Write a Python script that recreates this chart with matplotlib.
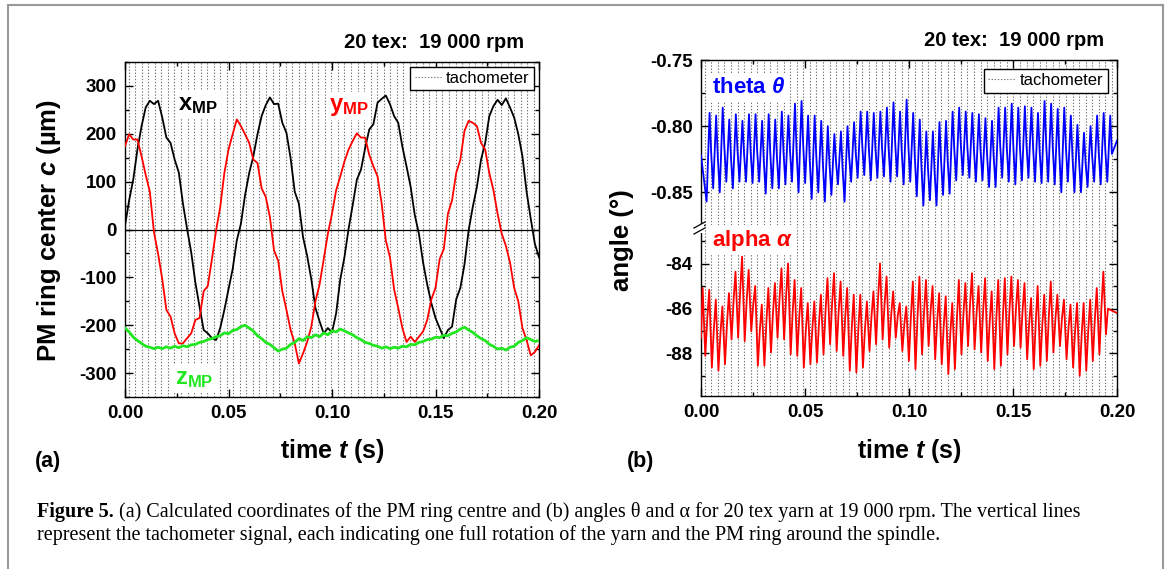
import numpy as np
import matplotlib
matplotlib.use("Agg")
import matplotlib.pyplot as plt
from matplotlib.lines import Line2D
from matplotlib.patches import Rectangle
from matplotlib.ticker import MultipleLocator, FormatStrFormatter

plt.rcParams["font.family"] = ["Liberation Sans", "DejaVu Sans"]
plt.rcParams["font.weight"] = "bold"
plt.rcParams["axes.unicode_minus"] = False
plt.rcParams["mathtext.fontset"] = "custom"
plt.rcParams["mathtext.rm"] = "Liberation Sans:bold"
plt.rcParams["mathtext.bf"] = "Liberation Sans:bold"
plt.rcParams["mathtext.it"] = "Liberation Sans:italic:bold"

# ---- data --------------------------------------------------------------------
RPM = 19000
REV = 60.0 / RPM            # one spindle revolution (s)
TACH_FIRST = 0.0018         # first tachometer pulse (s)

# (a) PM ring centre, sampled every 2 ms from 0 to 0.2 s (um)
t_a = np.linspace(0.0, 0.2, 101)
x_mp = [8, 61, 105, 167, 216, 255, 269, 262, 269, 234, 192, 181, 146, 119, 54, 1,
        -48, -111, -161, -210, -217, -227, -231, -206, -168, -125,
        -83, -23, 12, 72, 118, 153, 199, 237, 260, 276, 262, 263, 223, 202, 149, 79,
        54, -16, -55, -104, -164, -192, -217, -206, -215,
        -175, -104, -58, 1, 51, 104, 125, 170, 209, 220, 265, 273, 280, 262, 237, 223,
        173, 132, 89, 30, -9, -69, -115, -154, -185,
        -206, -227, -210, -203, -146, -122, -73, -2, 47, 89, 146, 181, 237, 258, 271,
        260, 274, 255, 234, 199, 153, 79, 23, -30, -58]
y_mp = [174, 199, 188, 188, 153, 114, 79, -6, -51, -104, -168, -182, -217, -238, -238,
        -227, -217, -189, -185, -129, -118, -62, -2, 47, 118, 167,
        199, 230, 216, 199, 181, 146, 139, 86, 68, 26, -44, -65, -129, -168, -210, -238,
        -280, -259, -235, -203, -150, -115, -62, -9, 33,
        82, 111, 142, 167, 185, 201, 192, 192, 156, 132, 111, 54, -23, -58, -125, -164,
        -206, -235, -224, -235, -224, -213, -189, -146, -122,
        -62, -41, 33, 61, 118, 146, 206, 227, 223, 216, 181, 167, 118, 82, 33, -9, -34,
        -69, -122, -150, -206, -231, -263, -256, -242]
z_mp = [-206, -214, -225, -232, -238, -244, -246, -249, -246, -249,
        -245, -248, -244, -247, -243, -245, -241, -240, -236, -234,
        -230, -228, -224, -222, -216, -218, -211, -209, -203, -200,
        -206, -212, -222, -228, -236, -240, -247, -254, -250, -248,
        -240, -236, -228, -232, -224, -226, -220, -224, -216, -220,
        -212, -214, -208, -212, -216, -220, -226, -230, -236, -238,
        -242, -244, -248, -245, -249, -246, -248, -244, -245, -240,
        -241, -236, -234, -230, -229, -225, -226, -221, -222, -217,
        -214, -208, -204, -210, -215, -222, -228, -232, -240, -244,
        -250, -248, -252, -246, -244, -236, -232, -226, -230, -234, -232]

# (b) angles, one trough / peak / shoulder per revolution (deg)
THETA_T0 = 0.0027           # first theta trough (s)
theta_start, theta_end = -0.822, -0.811
theta_trough = [-0.857, -0.847, -0.850, -0.842, -0.847, -0.842, -0.842, -0.843, -0.842, -0.851,
                -0.847, -0.847, -0.844, -0.842, -0.850, -0.843, -0.855, -0.850, -0.857, -0.852,
                -0.844, -0.857, -0.842, -0.839, -0.837, -0.841, -0.839, -0.838, -0.842, -0.838,
                -0.844, -0.842, -0.853, -0.860, -0.856, -0.860, -0.852, -0.851, -0.841, -0.837,
                -0.839, -0.842, -0.841, -0.846, -0.846, -0.839, -0.842, -0.844, -0.841, -0.839,
                -0.842, -0.843, -0.842, -0.844, -0.850, -0.842, -0.850, -0.850, -0.846, -0.842,
                -0.844, -0.842]
theta_peak = [-0.790, -0.792, -0.786, -0.795, -0.791, -0.796, -0.791, -0.791, -0.796, -0.791,
              -0.795, -0.789, -0.792, -0.783, -0.781, -0.792, -0.792, -0.796, -0.800, -0.806,
              -0.804, -0.800, -0.797, -0.789, -0.789, -0.790, -0.789, -0.786, -0.782, -0.789,
              -0.780, -0.790, -0.795, -0.804, -0.804, -0.797, -0.796, -0.789, -0.786, -0.789,
              -0.790, -0.791, -0.794, -0.796, -0.786, -0.786, -0.783, -0.786, -0.785, -0.786,
              -0.790, -0.781, -0.783, -0.787, -0.786, -0.792, -0.799, -0.805, -0.800, -0.792,
              -0.790, -0.792]
theta_mid = [-0.821, -0.823, -0.816, -0.823, -0.818, -0.821, -0.819, -0.819, -0.826, -0.821,
             -0.823, -0.819, -0.819, -0.819, -0.814, -0.826, -0.823, -0.828, -0.828, -0.827,
             -0.832, -0.823, -0.820, -0.815, -0.817, -0.817, -0.816, -0.816, -0.812, -0.819,
             -0.813, -0.824, -0.830, -0.832, -0.834, -0.827, -0.826, -0.817, -0.814, -0.816,
             -0.818, -0.818, -0.822, -0.823, -0.815, -0.816, -0.816, -0.816, -0.814, -0.816,
             -0.819, -0.814, -0.816, -0.821, -0.816, -0.823, -0.826, -0.828, -0.823, -0.820,
             -0.818, -0.821]

ALPHA_T0 = 0.0008           # first alpha peak (s)
alpha_start, alpha_end = -87.3, -86.2
alpha_peak = [-85.08, -85.16, -85.60, -85.90, -85.31, -84.35, -83.68, -84.27, -84.99, -85.82,
              -85.08, -84.86, -84.20, -83.98, -84.72, -85.08, -85.75, -85.68, -85.38, -84.64,
              -84.42, -84.79, -85.08, -85.38, -85.38, -85.68, -85.23, -83.98, -84.57, -85.23,
              -85.75, -85.90, -84.79, -84.57, -84.72, -84.99, -85.31, -85.45, -85.75, -84.72,
              -84.86, -84.42, -84.99, -84.64, -85.23, -84.72, -84.64, -84.57, -84.72, -84.86,
              -85.53, -84.99, -85.38, -84.79, -85.38, -85.60, -85.82, -85.75, -85.75, -85.60,
              -85.08, -84.35]
alpha_trough = [-88.11, -88.63, -88.77, -88.48, -87.37, -87.30, -87.45, -87.01, -88.55, -88.55,
                -87.96, -87.30, -87.37, -88.04, -88.11, -88.63, -88.48, -88.41, -88.04, -87.59,
                -87.89, -88.11, -88.77, -88.85, -88.63, -87.89, -87.59, -87.37, -87.74, -87.30,
                -87.89, -88.33, -88.70, -88.04, -87.67, -88.26, -88.48, -88.92, -88.70, -88.04,
                -87.67, -87.82, -87.96, -88.33, -88.70, -88.55, -88.04, -87.67, -87.74, -88.26,
                -88.70, -88.55, -88.33, -87.96, -87.67, -88.26, -88.63, -89.00, -88.77, -88.33,
                -88.04, -87.15]
alpha_mid = [-86.44, -86.92, -87.13, -86.70, -85.66, -85.29, -85.66, -85.80, -86.99, -86.62,
             -86.21, -85.55, -85.48, -86.18, -86.40, -86.99, -86.88, -86.70, -86.14, -85.81,
             -86.14, -86.40, -86.88, -86.92, -86.96, -86.36, -85.59, -85.77, -86.29, -86.33,
             -86.70, -86.36, -86.44, -86.18, -86.13, -86.59, -86.77, -87.14, -86.51, -86.25,
             -85.85, -86.21, -86.10, -86.58, -86.51, -86.40, -86.11, -86.00, -86.10, -86.70,
             -86.65, -86.77, -86.36, -86.47, -86.44, -86.84, -86.99, -87.18, -86.99, -86.51,
             -86.00, -86.00]

TITLE = "20 tex:  19 000 rpm"
CAPTION_1 = ("(a) Calculated coordinates of the PM ring centre and (b) angles \u03b8 and \u03b1 "
             "for 20 tex yarn at 19 000 rpm. The vertical lines")
CAPTION_2 = ("represent the tachometer signal, each indicating one full rotation of the yarn "
             "and the PM ring around the spindle.")


def cycles(t0, first, second, third, f2, f3):
    """Interleave per-revolution extremes into one time series."""
    t, v = [], []
    for k in range(len(first)):
        base = t0 + k * REV
        t += [base, base + f2 * REV, base + f3 * REV]
        v += [first[k], second[k], third[k]]
    return np.array(t), np.array(v)


t_th, v_th = cycles(THETA_T0, theta_trough, theta_peak, theta_mid, 0.45, 0.7)
t_th = np.r_[0.0, t_th, 0.2]
v_th = np.r_[theta_start, v_th, theta_end]
t_al, v_al = cycles(ALPHA_T0, alpha_peak, alpha_trough, alpha_mid, 0.4, 0.7)
t_al = np.r_[0.0, t_al, 0.2]
v_al = np.r_[alpha_start, v_al, alpha_end]
tach = np.arange(TACH_FIRST, 0.2, REV)

# ---- layout (pixel helpers) ---------------------------------------------------
W, H = 1171, 569
fig = plt.figure(figsize=(W / 100, H / 100), dpi=100)


def fx(px):
    return px / W


def fy(py):
    return 1 - py / H


ax1 = fig.add_axes([fx(125), fy(397), fx(539) - fx(125), fy(62) - fy(397)])
axt = fig.add_axes([fx(701), fy(228), fx(1117) - fx(701), fy(60) - fy(228)])
axb = fig.add_axes([fx(701), fy(396), fx(1117) - fx(701), fy(228) - fy(396)])

TACH_KW = dict(color="0.45", lw=0.8, ls=(0, (1.2, 1.6)), zorder=1)
for ax in (ax1, axt, axb):
    for tt in tach:
        ax.axvline(tt, **TACH_KW)
    ax.set_xlim(0, 0.2)
    ax.xaxis.set_major_locator(MultipleLocator(0.05))
    ax.xaxis.set_minor_locator(MultipleLocator(0.025))
    ax.xaxis.set_major_formatter(FormatStrFormatter("%.2f"))
    ax.tick_params(which="both", direction="in", top=True, right=True, width=1.0,
                   labelsize=13.5, pad=6)
    ax.tick_params(which="major", length=6)
    ax.tick_params(which="minor", length=3)
    for s in ax.spines.values():
        s.set_linewidth(1.0)

# (a)
ax1.axhline(0, color="black", lw=0.9, zorder=2)
ax1.plot(t_a, x_mp, color="black", lw=1.3, zorder=3)
ax1.plot(t_a, y_mp, color="#ff0000", lw=1.3, zorder=3)
ax1.plot(t_a, z_mp, color="#22e622", lw=2.0, zorder=4)
ax1.set_ylim(-350, 350)
ax1.yaxis.set_major_locator(MultipleLocator(100))
ax1.yaxis.set_minor_locator(MultipleLocator(50))

LBL_BOX = dict(facecolor="white", edgecolor="none", pad=2)
ax1.text(0.0258, 262, r"$\mathbf{x}_{\mathbf{MP}}$", fontsize=17, color="black",
         va="center", ha="left", bbox=LBL_BOX, zorder=5)
ax1.text(0.0985, 258, r"$\mathbf{y}_{\mathbf{MP}}$", fontsize=17, color="#ff0000",
         va="center", ha="left", bbox=LBL_BOX, zorder=5)
ax1.text(0.0240, -312, r"$\mathbf{z}_{\mathbf{MP}}$", fontsize=17, color="#22e622",
         va="center", ha="left", bbox=LBL_BOX, zorder=5)

# (b) broken axis
axt.plot(t_th, v_th, color="#0000ff", lw=1.3, zorder=3)
axt.set_ylim(-0.877, -0.75)
axt.yaxis.set_major_locator(MultipleLocator(0.05))
axt.yaxis.set_minor_locator(MultipleLocator(0.025))
axt.yaxis.set_major_formatter(FormatStrFormatter("%.2f"))
axt.spines["bottom"].set_visible(False)
axt.tick_params(which="both", bottom=False, labelbottom=False)

axb.plot(t_al, v_al, color="#ff0000", lw=1.3, zorder=3)
axb.set_ylim(-89.9, -82.4)
axb.yaxis.set_major_locator(MultipleLocator(2))
axb.yaxis.set_minor_locator(MultipleLocator(1))
axb.spines["top"].set_visible(False)
axb.tick_params(which="both", top=False)

axt.text(0.0051, -0.7708, r"theta $\theta$", fontsize=16, color="#0000ff",
         va="center", ha="left", bbox=LBL_BOX, zorder=5)
axb.text(0.0051, -82.95, r"alpha $\alpha$", fontsize=16, color="#ff0000",
         va="center", ha="left", bbox=LBL_BOX, zorder=5)

# break marks on the left spine
fig.add_artist(Rectangle((fx(699), fy(233)), fx(5), fy(224) - fy(233),
                         transform=fig.transFigure, facecolor="white", edgecolor="none"))
for off in (-3, 3):
    fig.add_artist(Line2D([fx(694), fx(705)], [fy(231 + off), fy(225 + off)],
                          transform=fig.transFigure, color="black", lw=0.9))

# legends
for ax, gap in ((ax1, 0.3), (axt, 0.55)):
    ax.legend([Line2D([], [], **{k: v for k, v in TACH_KW.items() if k != "zorder"})],
              ["tachometer"], loc="upper right", frameon=True,
              fancybox=False, edgecolor="black", framealpha=1, handlelength=1.6,
              handletextpad=0.3, borderpad=0.25, borderaxespad=gap,
              prop=dict(weight="normal", size=12)).get_frame().set_linewidth(1.0)

# titles, axis labels, panel tags
fig.text(fx(524), fy(42), TITLE, ha="right", va="center", fontsize=14.5)
fig.text(fx(1104), fy(40), TITLE, ha="right", va="center", fontsize=14.5)
fig.text(fx(332), fy(451), r"time $t$ (s)", ha="center", va="center", fontsize=18)
fig.text(fx(909), fy(451), r"time $t$ (s)", ha="center", va="center", fontsize=18)
fig.text(fx(49), fy(230), "PM ring center $c$ (\u00b5m)", ha="center", va="center",
         rotation=90, fontsize=18.5)
fig.text(fx(622), fy(240), "angle (\u00b0)", ha="center", va="center",
         rotation=90, fontsize=18.5)
fig.text(fx(35), fy(462), "(a)", ha="left", va="center", fontsize=15.5)
fig.text(fx(627), fy(462), "(b)", ha="left", va="center", fontsize=15.5)

# caption
CAP_KW = dict(family=["Liberation Serif", "DejaVu Serif"], fontsize=14.5)
head = fig.text(fx(37), fy(522), "Figure 5.", weight="bold", va="bottom", **CAP_KW)
ax1.annotate(" " + CAPTION_1, xy=(1, 0), xycoords=head, weight="normal", va="bottom",
             annotation_clip=False, **CAP_KW)
fig.text(fx(37), fy(545), CAPTION_2, weight="normal", va="bottom", **CAP_KW)

# frame round the whole figure
for xs, ys in (([8, 8], [600, 5]), ([8, 1163], [5, 5]), ([1163, 1163], [5, 600])):
    fig.add_artist(Line2D([fx(v) for v in xs], [fy(v) for v in ys],
                          transform=fig.transFigure, color="0.6", lw=1.5))

fig.savefig("out.png", dpi=100)
